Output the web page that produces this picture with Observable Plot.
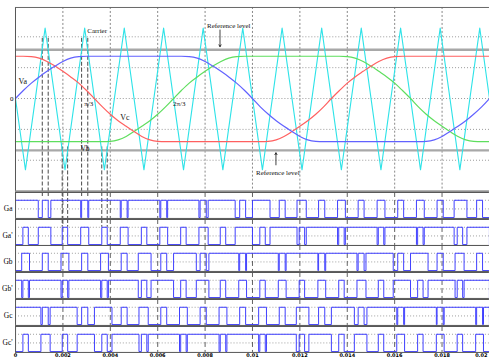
<!DOCTYPE html>
<html><head><meta charset="utf-8">
<script src="https://cdn.jsdelivr.net/npm/d3@7"></script>
<script src="https://cdn.jsdelivr.net/npm/@observablehq/plot@0.6"></script>
<style>
html,body{margin:0;padding:0;background:#fff;overflow:hidden;}
#chart svg{display:block;}
</style></head><body><div id="chart"></div>
<script>
// ---- reference signals (sampled every 1/3000 s) ----
const tSamples = [0, 0.00033, 0.00067, 0.001, 0.00133, 0.00167, 0.002, 0.00233, 0.00267, 0.003, 0.00333, 0.00367, 0.004, 0.00433, 0.00467, 0.005, 0.00533, 0.00567, 0.006, 0.00633, 0.00667, 0.007, 0.00733, 0.00767, 0.008, 0.00833, 0.00867, 0.009, 0.00933, 0.00967, 0.01, 0.01033, 0.01067, 0.011, 0.01133, 0.01167, 0.012, 0.01233, 0.01267, 0.013, 0.01333, 0.01367, 0.014, 0.01433, 0.01467, 0.015, 0.01533, 0.01567, 0.016, 0.01633, 0.01667, 0.017, 0.01733, 0.01767, 0.018, 0.01833, 0.01867, 0.019, 0.01933, 0.01967, 0.02];
const Va = [0, 0.26, 0.50, 0.70, 0.88, 1.05, 1.20, 1.31, 1.36, 1.37, 1.37, 1.37, 1.37, 1.37, 1.37, 1.37, 1.37, 1.37, 1.37, 1.37, 1.37, 1.37, 1.36, 1.31, 1.20, 1.05, 0.88, 0.70, 0.50, 0.26, 0, -0.27, -0.51, -0.72, -0.90, -1.07, -1.23, -1.34, -1.39, -1.40, -1.40, -1.40, -1.40, -1.40, -1.40, -1.40, -1.40, -1.40, -1.40, -1.40, -1.40, -1.40, -1.39, -1.34, -1.23, -1.07, -0.90, -0.72, -0.51, -0.27, 0];
const Vb = [-1.40, -1.40, -1.40, -1.40, -1.40, -1.40, -1.40, -1.40, -1.40, -1.40, -1.40, -1.40, -1.39, -1.34, -1.23, -1.07, -0.90, -0.72, -0.51, -0.27, 0, 0.26, 0.50, 0.70, 0.88, 1.05, 1.20, 1.31, 1.36, 1.37, 1.37, 1.37, 1.37, 1.37, 1.37, 1.37, 1.37, 1.37, 1.37, 1.37, 1.37, 1.37, 1.36, 1.31, 1.20, 1.05, 0.88, 0.70, 0.50, 0.26, 0, -0.27, -0.51, -0.72, -0.90, -1.07, -1.23, -1.34, -1.39, -1.40, -1.40];
const Vc = [1.37, 1.37, 1.36, 1.31, 1.20, 1.05, 0.88, 0.70, 0.50, 0.26, 0, -0.27, -0.51, -0.72, -0.90, -1.07, -1.23, -1.34, -1.39, -1.40, -1.40, -1.40, -1.40, -1.40, -1.40, -1.40, -1.40, -1.40, -1.40, -1.40, -1.40, -1.40, -1.39, -1.34, -1.23, -1.07, -0.90, -0.72, -0.51, -0.27, 0, 0.26, 0.50, 0.70, 0.88, 1.05, 1.20, 1.31, 1.36, 1.37, 1.37, 1.37, 1.37, 1.37, 1.37, 1.37, 1.37, 1.37, 1.37, 1.37, 1.37];

// ---- triangular carrier vertices ----
const carrierT = [0, 0.00042, 0.00125, 0.00209, 0.00292, 0.00375, 0.00459, 0.00542, 0.00625, 0.00709, 0.00792, 0.00875, 0.00959, 0.01042, 0.01125, 0.01209, 0.01292, 0.01375, 0.01459, 0.01542, 0.01625, 0.01709, 0.01792, 0.01875, 0.01959, 0.02];
const carrierV = [0, -2.31, 2.28, -2.31, 2.28, -2.31, 2.28, -2.31, 2.28, -2.31, 2.28, -2.31, 2.28, -2.31, 2.28, -2.31, 2.28, -2.31, 2.28, -2.31, 2.28, -2.31, 2.28, -2.31, 2.28, 0];

// ---- reference levels ----
const refLevels = [1.58, -1.68];
const upperCross = [0.00113, 0.00138, 0.00279, 0.00305];
const lowerCross = [0.00197, 0.00220, 0.00364, 0.00387];

// ---- annotations ----
const labelText = ["Carrier", "Reference level", "Va", "π/3", "Vc", "2π/3", "Vb", "Reference level"];
const labelT = [0.00303, 0.00808, 0.00013, 0.00290, 0.00442, 0.00665, 0.00274, 0.01015];
const labelV = [2.18, 2.37, 0.56, -0.18, -0.60, -0.18, -1.61, -2.39];
const labelSize = [7, 7, 8, 7, 8, 7, 7.5, 7];
const arrowT = [0.00863, 0.01099];
const arrowV1 = [2.22, -2.15];
const arrowV2 = [1.68, -1.76];

// ---- gate signals: high intervals [on, off] in seconds ----
const gateNames = ["Ga", "Ga'", "Gb", "Gb'", "Gc", "Gc'"];
const gaHigh = [[0, 0.00096], [0.00113, 0.00138], [0.00149, 0.00275], [0.00279, 0.00305], [0.00309, 0.00442], [0.00446, 0.00471], [0.00475, 0.00609], [0.00613, 0.00638], [0.00642, 0.00774], [0.00779, 0.00805], [0.00813, 0.00927], [0.00946, 0.00971], [0.01000, 0.01074], [0.01113, 0.01138], [0.01188, 0.01227], [0.01279, 0.01305], [0.01359, 0.01392], [0.01446, 0.01471], [0.01526, 0.01559], [0.01613, 0.01638], [0.01692, 0.01725], [0.01779, 0.01805], [0.01851, 0.01905], [0.01946, 0.01971]];
const gapHigh = [[0.00031, 0.00054], [0.00096, 0.00149], [0.00197, 0.00220], [0.00275, 0.00309], [0.00364, 0.00387], [0.00442, 0.00475], [0.00531, 0.00554], [0.00609, 0.00642], [0.00697, 0.00720], [0.00774, 0.00813], [0.00864, 0.00887], [0.00927, 0.01000], [0.01031, 0.01054], [0.01074, 0.01188], [0.01197, 0.01220], [0.01227, 0.01359], [0.01364, 0.01387], [0.01392, 0.01526], [0.01531, 0.01554], [0.01559, 0.01692], [0.01697, 0.01720], [0.01725, 0.01851], [0.01864, 0.01887], [0.01905, 0.02]];
const gbHigh = [[0.00026, 0.00059], [0.00113, 0.00138], [0.00192, 0.00225], [0.00279, 0.00305], [0.00359, 0.00392], [0.00446, 0.00471], [0.00518, 0.00572], [0.00613, 0.00638], [0.00667, 0.00763], [0.00779, 0.00805], [0.00816, 0.00942], [0.00946, 0.00971], [0.00975, 0.01109], [0.01113, 0.01138], [0.01142, 0.01276], [0.01279, 0.01305], [0.01309, 0.01441], [0.01446, 0.01471], [0.01479, 0.01594], [0.01613, 0.01638], [0.01667, 0.01741], [0.01779, 0.01805], [0.01855, 0.01893], [0.01946, 0.01971]];
const gbpHigh = [[0, 0.00026], [0.00031, 0.00054], [0.00059, 0.00192], [0.00197, 0.00220], [0.00225, 0.00359], [0.00364, 0.00387], [0.00392, 0.00518], [0.00531, 0.00554], [0.00572, 0.00667], [0.00697, 0.00720], [0.00763, 0.00816], [0.00864, 0.00887], [0.00942, 0.00975], [0.01031, 0.01054], [0.01109, 0.01142], [0.01197, 0.01220], [0.01276, 0.01309], [0.01364, 0.01387], [0.01441, 0.01479], [0.01531, 0.01554], [0.01594, 0.01667], [0.01697, 0.01720], [0.01741, 0.01855], [0.01864, 0.01887], [0.01893, 0.02]];
const gcHigh = [[0, 0.00107], [0.00113, 0.00138], [0.00146, 0.00260], [0.00279, 0.00305], [0.00333, 0.00407], [0.00446, 0.00471], [0.00521, 0.00560], [0.00613, 0.00638], [0.00692, 0.00725], [0.00779, 0.00805], [0.00859, 0.00892], [0.00946, 0.00971], [0.01026, 0.01059], [0.01113, 0.01138], [0.01185, 0.01238], [0.01279, 0.01305], [0.01333, 0.01430], [0.01446, 0.01471], [0.01483, 0.01609], [0.01613, 0.01638], [0.01642, 0.01776], [0.01779, 0.01805], [0.01809, 0.01942], [0.01946, 0.01971], [0.01975, 0.02]];
const gcpHigh = [[0.00031, 0.00054], [0.00107, 0.00146], [0.00197, 0.00220], [0.00260, 0.00333], [0.00364, 0.00387], [0.00407, 0.00521], [0.00531, 0.00554], [0.00560, 0.00692], [0.00697, 0.00720], [0.00725, 0.00859], [0.00864, 0.00887], [0.00892, 0.01026], [0.01031, 0.01054], [0.01059, 0.01185], [0.01197, 0.01220], [0.01238, 0.01333], [0.01364, 0.01387], [0.01430, 0.01483], [0.01531, 0.01554], [0.01609, 0.01642], [0.01697, 0.01720], [0.01776, 0.01809], [0.01864, 0.01887], [0.01942, 0.01975]];

// ---- axis ticks ----
const xTicks = [0, 0.002, 0.004, 0.006, 0.008, 0.01, 0.012, 0.014, 0.016, 0.018];
const xLastTick = [0.02];
const xGrid = [0.002, 0.004, 0.006, 0.008, 0.01, 0.012, 0.014, 0.016, 0.018];
const yGrid = [-2, -1, 0, 1, 2];

// ================= drawing =================
const W = 490, ML = 15;
const SERIF = "'Liberation Serif', 'DejaVu Serif', serif";
const SANS = "'DejaVu Sans', sans-serif";
const root = document.getElementById("chart");
const fmt = d => d === 0 ? "0" : String(+d.toFixed(3));

const sig = (vals) => tSamples.map((t, i) => ({t, v: vals[i]}));
const carrier = carrierT.map((t, i) => ({t, v: carrierV[i]}));
const labels = labelText.map((s, i) => ({s, t: labelT[i], v: labelV[i], fs: labelSize[i]}));
const arrows = arrowT.map((t, i) => ({t, v1: arrowV1[i], v2: arrowV2[i]}));

const topPlot = Plot.plot({
  width: W, height: 192, marginLeft: ML, marginRight: 0, marginTop: 7, marginBottom: 1,
  x: {domain: [0, 0.02], axis: null},
  y: {domain: [-3, 2.95]},
  style: {background: "#fff", fontFamily: SERIF},
  marks: [
    Plot.ruleY(yGrid, {stroke: "#9a9a9a", strokeDasharray: "1,2"}),
    Plot.ruleX(xGrid, {stroke: "#7a7a7a", strokeDasharray: "2,2", strokeWidth: 0.9}),
    Plot.ruleY(refLevels, {stroke: "#a8a8a8", strokeWidth: 2.4}),
    Plot.ruleX(upperCross, {y1: 1.95, y2: -3, stroke: "#333", strokeDasharray: "4,2", strokeWidth: 0.9}),
    Plot.ruleX(lowerCross, {y1: -1.57, y2: -3, stroke: "#333", strokeDasharray: "4,2", strokeWidth: 0.9}),
    Plot.line(carrier, {x: "t", y: "v", stroke: "#2ee3e8", strokeWidth: 1.1}),
    Plot.line(sig(Vb), {x: "t", y: "v", stroke: "#5ede5e", strokeWidth: 1.2, curve: "monotone-x"}),
    Plot.line(sig(Vc), {x: "t", y: "v", stroke: "#ff6060", strokeWidth: 1.2, curve: "monotone-x"}),
    Plot.line(sig(Va), {x: "t", y: "v", stroke: "#6262ff", strokeWidth: 1.2, curve: "monotone-x"}),
    Plot.ruleX([0], {stroke: "#555"}),
    Plot.ruleY([2.95], {stroke: "#666"}),
    Plot.ruleY([-3], {stroke: "#444"}),
    Plot.text(labels, {x: "t", y: "v", text: "s", fontSize: "fs", textAnchor: "start", fill: "#111", fontFamily: SERIF}),
    Plot.arrow(arrows, {x1: "t", x2: "t", y1: "v1", y2: "v2", stroke: "#111", strokeWidth: 0.8, headLength: 4}),
    Plot.axisY({ticks: [0], label: null, tickSize: 0, tickPadding: 2, fontSize: 7, fontFamily: SERIF, tickFormat: () => "0"})
  ]
});
root.appendChild(topPlot);

function steps(iv) {
  const pts = [{t: 0, v: iv[0][0] === 0 ? 1 : 0}];
  for (const [a, b] of iv) {
    if (a > 0) pts.push({t: a, v: 1});
    pts.push({t: b, v: 0});
  }
  if (pts[pts.length - 1].t < 0.02) pts.push({t: 0.02, v: 0});
  return pts;
}

const gates = [gaHigh, gapHigh, gbHigh, gbpHigh, gcHigh, gcpHigh];
gates.forEach((iv, i) => {
  const last = i === gates.length - 1;
  const extra = [];
  if (i === 0) {
    extra.push(Plot.ruleX(upperCross, {y1: 1.45, y2: 1.15, stroke: "#333", strokeDasharray: "4,2", strokeWidth: 0.9}));
    extra.push(Plot.ruleX(lowerCross, {y1: 1.45, y2: -0.05, stroke: "#333", strokeDasharray: "4,2", strokeWidth: 0.9}));
  }
  if (i === 1) {
    extra.push(Plot.ruleX(lowerCross, {y1: 1.45, y2: 1.0, stroke: "#333", strokeDasharray: "4,2", strokeWidth: 0.9}));
  }
  const axisMarks = last ? [
    Plot.axisX({ticks: xTicks, label: null, tickSize: 0, tickPadding: 1, fontSize: 5, fontWeight: "bold", fontFamily: SANS, tickFormat: fmt}),
    Plot.axisX({ticks: xLastTick, label: null, tickSize: 0, tickPadding: 1, fontSize: 5, fontWeight: "bold", fontFamily: SANS, tickFormat: fmt, textAnchor: "end", dx: -2})
  ] : [];
  const p = Plot.plot({
    width: W, height: last ? 32 : 27, marginLeft: ML, marginRight: 0, marginTop: 0, marginBottom: last ? 6 : 1,
    x: last ? {domain: [0, 0.02]} : {domain: [0, 0.02], axis: null},
    y: {domain: [-0.05, 1.45]},
    style: {background: "#fff", fontFamily: SERIF},
    marks: [
      Plot.ruleY([0.5, 1], {stroke: "#a0a0a0", strokeDasharray: "1,2"}),
      Plot.ruleX(xGrid, {stroke: "#3a3a3a", strokeDasharray: "5,3", strokeWidth: 0.8}),
      ...extra,
      Plot.line(steps(iv), {x: "t", y: "v", curve: "step-after", stroke: "#3f3fff", strokeWidth: 1}),
      Plot.ruleY([1.45], {stroke: "#555"}),
      Plot.ruleY([-0.05], {stroke: "#555"}),
      Plot.ruleX([0], {stroke: "#555"}),
      Plot.axisY({ticks: [0.5], label: null, tickSize: 0, tickPadding: 3, fontSize: 7.5, fontFamily: SERIF, tickFormat: () => gateNames[i]}),
      ...axisMarks
    ]
  });
  root.appendChild(p);
});
</script>
</body></html>
